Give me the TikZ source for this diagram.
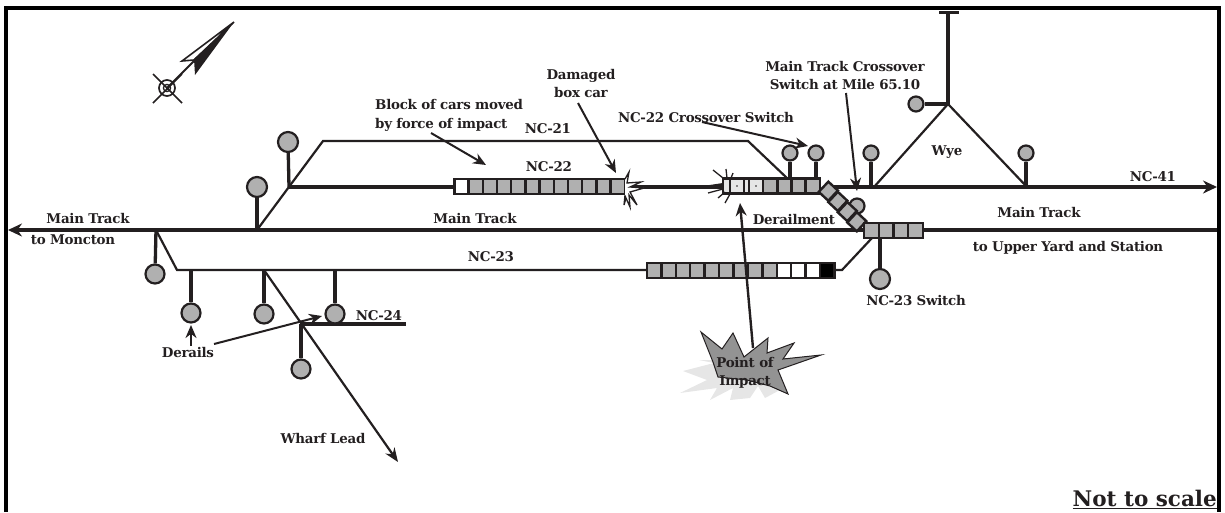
\documentclass[tikz,border=0pt]{standalone}
\usepackage{fontspec}
\setmainfont{DejaVu Serif}
\usetikzlibrary{arrows.meta}
\definecolor{ink}{HTML}{231F20}
\definecolor{cargray}{HTML}{B0B0B0}
\definecolor{carlight}{HTML}{E6E6E6}
\tikzset{
  track/.style={draw=ink,line width=3.3pt},
  thintrack/.style={draw=ink,line width=2.2pt},
  stem/.style={draw=ink,line width=3.3pt},
  tiparrow/.style={draw=ink,line width=2pt,-{Stealth[length=13pt,width=11pt]}},
  mainarrow/.style={draw=ink,line width=3.3pt,-{Stealth[length=14pt,width=13pt]}},
  signal/.style={circle,draw=ink,fill=cargray,line width=2.2pt,inner sep=0pt,minimum size=#1},
  signal/.default=20pt,
  car/.style={rectangle,draw=ink,fill=cargray,line width=2.4pt,inner sep=0pt,minimum width=14.4pt,minimum height=15pt},
  whitecar/.style={car,fill=white},
  blackcar/.style={car,fill=black},
  lightcar/.style={car,fill=carlight},
  lbl/.style={text=ink,font=\fontsize{13.4}{15}\selectfont\bfseries\addfontfeatures{LetterSpace=-2},inner sep=0pt,align=center},
  spark/.style={draw=ink,line width=1.3pt}
}
\begin{document}
\begin{tikzpicture}[x=1pt,y=-1pt]
\useasboundingbox (0,0) rectangle (1225,512);
% frame
\draw[black,line width=3.4pt] (6,512) -- (6,8) -- (1219,8) -- (1219,512);
% compass
\coordinate (cc) at (167,88);
\coordinate (ntip) at (234,22);
\draw[ink,line width=1.6pt,fill=white] (ntip) -- (182,61) -- (194,60) -- cycle;
\fill[ink] (ntip) -- (194,59) -- (195,75) -- cycle;
\draw[ink,line width=1.8pt] (cc) -- (195,60);
\draw[ink,line width=1.6pt] (153,74) -- (182,103) (182,74) -- (153,103);
\draw[ink,line width=1.7pt] (cc) circle (8pt);
\draw[ink,line width=1.3pt] (cc) circle (3.6pt);
% track coordinates
\coordinate (mL) at (8,230);
\coordinate (mR) at (1217,230);
\coordinate (s1) at (257,230);
\coordinate (s2) at (289,187);
\coordinate (s3) at (323,141);
\coordinate (s4) at (748,141);
\coordinate (s5) at (788,179);
\coordinate (s6) at (625,187);
\coordinate (s7) at (725,187);
\coordinate (n1) at (832,187);
\coordinate (nR) at (1217,187);
\coordinate (w0) at (874,187);
\coordinate (wA) at (948,104);
\coordinate (wB) at (1027,187);
\coordinate (wT) at (948,12.5);
\coordinate (wL) at (939,12.5);
\coordinate (wR) at (959,12.5);
\coordinate (d0) at (156,230);
\coordinate (d1) at (177,270);
\coordinate (d2) at (842,270);
\coordinate (d3) at (872,238);
\coordinate (j1) at (191,270);
\coordinate (j2) at (264,270);
\coordinate (j3) at (335,270);
\coordinate (wl) at (398,462);
\coordinate (y0) at (301,324);
\coordinate (y1) at (406,324);
% tracks
\draw[mainarrow] (s1) -- (mL);
\draw[track] (s1) -- (mR);
\draw[thintrack] (s1) -- (s3) -- (s4) -- (s5);
\draw[track] (s2) -- (460,187);
\draw[track] (s6) -- (s7);
\draw[mainarrow] (n1) -- (nR);
\draw[thintrack] (w0) -- (wA) -- (wB);
\draw[stem] (wA) -- (wT);
\draw[line width=2.6pt,draw=ink] (wL) -- (wR);
\draw[thintrack] (d0) -- (d1) -- (d2) -- (d3);
\draw[thintrack,-{Stealth[length=14pt,width=11pt]}] (j2) -- (wl);
\draw[track] (y0) -- (y1);
% signals
\node[signal=20pt] (c1) at (257,187) {};
\node[signal=20pt] (c2) at (288,142) {};
\node[signal=15pt] (c3) at (790,153) {};
\node[signal=15pt] (c4) at (816,153) {};
\node[signal=15pt] (c5) at (871,153) {};
\node[signal=15pt] (c6) at (916,104) {};
\node[signal=15pt] (c7) at (1026,153) {};
\node[signal=15pt] (c8) at (857,206) {};
\node[signal=20pt] (c9) at (880,279) {};
\node[signal=19pt] (c10) at (155,274) {};
\node[signal=19pt] (c11) at (191,313) {};
\node[signal=19pt] (c12) at (264,314) {};
\node[signal=19pt] (c13) at (335,314) {};
\node[signal=19pt] (c14) at (301,369) {};
\draw[stem] (s1) -- (c1);
\draw[stem] (s2) -- (c2);
\draw[stem] (790,180) -- (c3);
\draw[stem] (816,180) -- (c4);
\draw[stem] (871,187) -- (c5);
\draw[stem] (wA) -- (c6);
\draw[stem] (1026,187) -- (c7);
\draw[stem] (880,238) -- (c9);
\draw[stem] (d0) -- (c10);
\draw[stem] (j1) -- (c11);
\draw[stem] (j2) -- (c12);
\draw[stem] (j3) -- (c13);
\draw[stem] (y0) -- (c14);
% NC-22 moved block
\node[whitecar] (a0) at (461.5,186.5) {};
\foreach \i in {1,...,11} {
  \node[car] (a\i) at ({461.5+14.2*\i},186.5) {};
}
% NC-22 derailed block
\node[lightcar,minimum width=7pt] (b0) at (726.5,186) {};
\node[lightcar,minimum width=14pt] (b1) at (737,186) {};
\node[lightcar,minimum width=5pt] (b2) at (746.5,186) {};
\node[lightcar,minimum width=14pt] (b3) at (756,186) {};
\node[car] (b4) at (770,186) {};
\node[car] (b5) at (784.5,186) {};
\node[car] (b6) at (798.5,186) {};
\node[car] (b7) at (812.5,186) {};
\fill[ink] (b1.center) circle (0.8pt) (b3.center) circle (0.8pt);
% crossover derailed cars
\foreach \i in {0,...,3} {
  \node[car,minimum width=14pt,minimum height=13pt,rotate=47] (e\i) at ({828.3+9.5*\i},{191.2+10.2*\i}) {};
}
% main track block
\foreach \i in {0,...,3} {
  \node[car,minimum width=14.7pt] (f\i) at ({871.5+14.7*\i},230.5) {};
}
% NC-23 block
\foreach \i in {0,...,8} {
  \node[car] (g\i) at ({654.2+14.42*\i},270.5) {};
}
\foreach \i in {9,10,11} {
  \node[whitecar] (g\i) at ({654.2+14.42*\i},270.5) {};
}
\node[blackcar] (g12) at ({654.2+14.42*12},270.5) {};
% sparks
\draw[spark,fill=white] (625,179) -- (629,172) -- (627,183) -- (641,182) -- (630,187) -- (644,188) -- (630,192) -- (637,205) -- (629,195) -- (630,207) -- (626,198) -- (624,205) -- (625,195);
\draw[spark] (713,170) -- (723,178) (726,169) -- (727,178) (733,173) -- (731,178)
  (708,193) -- (723,189) (718,198) -- (725,192) (725,203) -- (730,194);
\fill[ink] (703,186) -- (723,183) -- (723,188) -- cycle;
% point of impact
\fill[carlight] (699,360) -- (714,363) -- (683,371) -- (707,380) -- (680,393) -- (717,388) -- (710,400) -- (733,388) -- (730,400) -- (750,398) -- (758,386) -- (765,398) -- (780,390) -- (770,360) -- cycle;
\draw[ink,line width=1pt,fill=gray!85] (701,332) -- (722,349) -- (733,333) -- (744,357) -- (768,338) -- (767,353) -- (794,343) -- (783,359) -- (821,355) -- (778,370) -- (788,394) -- (770,386) -- (747,380) -- (718,377) -- (713,362) -- cycle;
% labels
\node[lbl] (t1) at (88,218) {Main Track};
\node[lbl] (t2) at (73,240) {to Moncton};
\node[lbl] (t3) at (475,218) {Main Track};
\node[lbl,align=left,anchor=west] (t4) at (375,115.5) {Block of cars moved\\[3.5pt]by force of impact};
\node[lbl] (t5) at (548,129) {NC-21};
\node[lbl] (t6) at (549,167) {NC-22};
\node[lbl] (t7) at (581,83.5) {Damaged\\[3pt]box car};
\node[lbl] (t8) at (706,117) {NC-22 Crossover Switch};
\node[lbl] (t9) at (845,76) {Main Track Crossover\\[3pt]Switch at Mile 65.10};
\node[lbl] (t10) at (947,152) {Wye};
\node[lbl] (t11) at (1153,177) {NC-41};
\node[lbl] (t12) at (794,219) {Derailment};
\node[lbl] (t13) at (1039,212) {Main Track};
\node[lbl] (t14) at (1068,248) {to Upper Yard and Station};
\node[lbl] (t15) at (491,257) {NC-23};
\node[lbl] (t16) at (916,300) {NC-23 Switch};
\node[lbl] (t17) at (379,316) {NC-24};
\node[lbl] (t18) at (188,352) {Derails};
\node[lbl] (t19) at (323,438) {Wharf Lead};
\node[lbl] (t20) at (745,372.5) {Point of\\[3pt]Impact};
\node[lbl,font=\fontsize{21.5}{24}\selectfont\bfseries,anchor=east] (t21) at (1217,499) {\underline{Not to scale}};
% label arrows
\coordinate (ax1) at (486,165);
\coordinate (ax2) at (616,173);
\coordinate (ax3) at (808,146);
\coordinate (ax4) at (857,191);
\coordinate (ax5) at (740,203);
\coordinate (ax6) at (191,325);
\coordinate (ax7) at (322,316);
\draw[tiparrow] (431,133) -- (ax1);
\draw[tiparrow] (578,103) -- (ax2);
\draw[tiparrow] (702,122) -- (ax3);
\draw[tiparrow] (846,93) -- (ax4);
\draw[tiparrow,line width=2.4pt] (753,348) -- (ax5);
\draw[tiparrow,line width=2.4pt] (191,346) -- (ax6);
\draw[tiparrow] (214,344) -- (ax7);
\end{tikzpicture}
\end{document}
